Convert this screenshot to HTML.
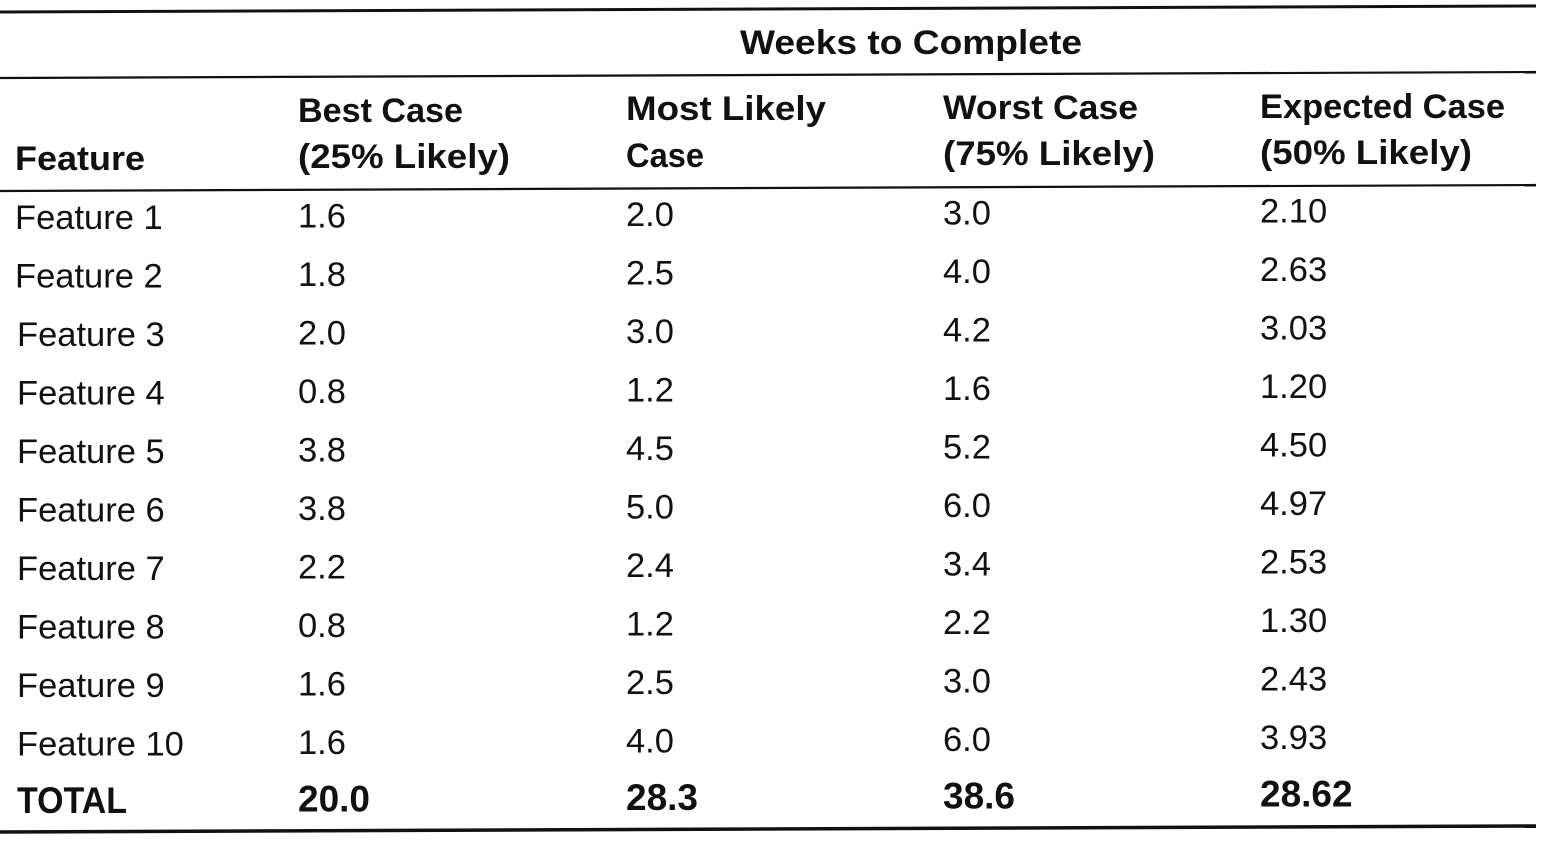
<!DOCTYPE html>
<html><head><style>
html,body{margin:0;padding:0;background:#fff;}
svg{display:block;}
text{font-family:"Liberation Sans",sans-serif;fill:#111;}
.b{font-weight:bold;}
</style></head><body>
<svg width="1548" height="844" viewBox="0 0 1548 844" xmlns="http://www.w3.org/2000/svg">
<g stroke="#111">
<line x1="0" y1="12" x2="1536" y2="6" stroke-width="3"/>
<line x1="0" y1="78" x2="1536" y2="72" stroke-width="2.2"/>
<line x1="0" y1="191" x2="1536" y2="185" stroke-width="2.2"/>
<line x1="0" y1="832" x2="1536" y2="826" stroke-width="3.5"/>
</g>
<g font-size="34">
<text class="b" x="740" y="54" textLength="342" lengthAdjust="spacingAndGlyphs">Weeks to Complete</text>
<text class="b" x="15" y="170" textLength="130" lengthAdjust="spacingAndGlyphs">Feature</text>
<text class="b" x="298" y="122" textLength="165" lengthAdjust="spacingAndGlyphs">Best Case</text>
<text class="b" x="298" y="168" textLength="212" lengthAdjust="spacingAndGlyphs">(25% Likely)</text>
<text class="b" x="626" y="120" textLength="200" lengthAdjust="spacingAndGlyphs">Most Likely</text>
<text class="b" x="626" y="167" textLength="78" lengthAdjust="spacingAndGlyphs">Case</text>
<text class="b" x="943" y="119" textLength="195" lengthAdjust="spacingAndGlyphs">Worst Case</text>
<text class="b" x="943" y="165" textLength="212" lengthAdjust="spacingAndGlyphs">(75% Likely)</text>
<text class="b" x="1260" y="118" textLength="245" lengthAdjust="spacingAndGlyphs">Expected Case</text>
<text class="b" x="1260" y="164" textLength="212" lengthAdjust="spacingAndGlyphs">(50% Likely)</text>
</g>
<g font-size="34.5" id="rows"></g>
</svg>
<script>
var d=[["Feature 1","1.6","2.0","3.0","2.10"],["Feature 2","1.8","2.5","4.0","2.63"],["Feature 3","2.0","3.0","4.2","3.03"],["Feature 4","0.8","1.2","1.6","1.20"],["Feature 5","3.8","4.5","5.2","4.50"],["Feature 6","3.8","5.0","6.0","4.97"],["Feature 7","2.2","2.4","3.4","2.53"],["Feature 8","0.8","1.2","2.2","1.30"],["Feature 9","1.6","2.5","3.0","2.43"],["Feature 10","1.6","4.0","6.0","3.93"],["TOTAL","20.0","28.3","38.6","28.62"]];
var xs=[15,298,626,943,1260],g=document.getElementById("rows"),ns="http://www.w3.org/2000/svg";
d.forEach(function(r,i){r.forEach(function(v,j){var t=document.createElementNS(ns,"text");
var x=xs[j];if(j==0&&i>1)x=17;
t.setAttribute("x",x);var y=229+i*58.5-xs[j]*0.005;if(i==10)y=813-xs[j]*0.005;
t.setAttribute("y",y);if(i==10){t.setAttribute("class","b");t.setAttribute("font-size","37");}
if(i==10&&j==0){t.setAttribute("textLength","110");t.setAttribute("lengthAdjust","spacingAndGlyphs");}
t.textContent=v;g.appendChild(t);});});
</script>
</body></html>
